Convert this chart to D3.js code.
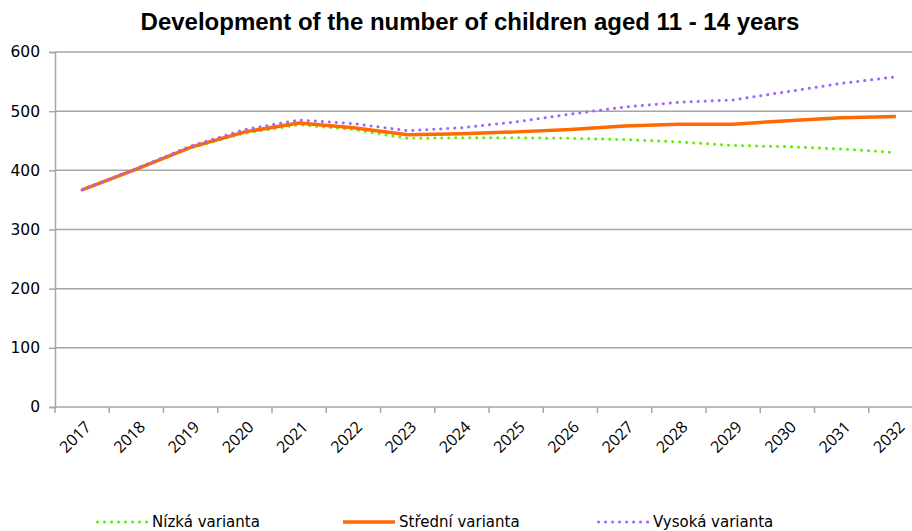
<!DOCTYPE html>
<html>
<head>
<meta charset="utf-8">
<script src="https://cdn.jsdelivr.net/npm/d3@7"></script>
<style>
  body { margin: 0; background: #fff; }
  svg { display: block; }
</style>
</head>
<body>
<div id="chart"></div>
<script>
// Years on the category axis
const years = ["2017","2018","2019","2020","2021","2022","2023","2024",
               "2025","2026","2027","2028","2029","2030","2031","2032"];

// Projection variants (number of children aged 11-14, thousands)
const nizka   = [367, 402, 438, 463, 477, 469, 454, 455, 455, 454, 452, 448, 442, 440, 436, 430];
const stredni = [367, 402, 439, 465, 480, 472, 460, 462, 465, 469, 475, 478, 478, 484, 489, 491];
const vysoka  = [367, 403, 441, 469, 485, 479, 467, 472, 482, 495, 507, 515, 519, 533, 547, 558];

const yTicks = [0, 100, 200, 300, 400, 500, 600];

const seriesNames = ["Nízká varianta", "Střední varianta", "Vysoká varianta"];

const W = 912, H = 531;
const margin = { left: 55, top: 52, right: -11, bottom: 124 };

const svg = d3.select("#chart").append("svg")
  .attr("width", W).attr("height", H);

const x = d3.scaleBand()
  .domain(years)
  .range([margin.left, W - margin.right]);

const y = d3.scaleLinear()
  .domain([0, 600])
  .range([H - margin.bottom, margin.top]);

const gridColor = "#a6a6a6";

// Horizontal gridlines
svg.append("g")
  .selectAll("line")
  .data(yTicks.filter(d => d > 0))
  .join("line")
  .attr("x1", margin.left).attr("x2", W)
  .attr("y1", d => y(d)).attr("y2", d => y(d))
  .attr("stroke", gridColor).attr("stroke-width", 1.5);

// Y axis
const yAxis = svg.append("g")
  .attr("transform", `translate(${margin.left},0)`)
  .call(d3.axisLeft(y).tickValues(yTicks).tickSize(6).tickPadding(9));
yAxis.select(".domain").attr("stroke", gridColor).attr("stroke-width", 1.5);
yAxis.selectAll(".tick line").attr("stroke", gridColor).attr("stroke-width", 1.5);
yAxis.selectAll(".tick text")
  .attr("font-family", "'DejaVu Sans', Verdana, sans-serif")
  .attr("font-size", 15.5)
  .attr("fill", "#000");

// X axis: ticks sit on category boundaries
const xAxisG = svg.append("g")
  .attr("transform", `translate(0,${y(0)})`);
xAxisG.append("line")
  .attr("x1", margin.left).attr("x2", W)
  .attr("stroke", gridColor).attr("stroke-width", 1.5);
xAxisG.selectAll("line.tk")
  .data(years)
  .join("line")
  .attr("class", "tk")
  .attr("x1", d => x(d)).attr("x2", d => x(d))
  .attr("y1", 0).attr("y2", 6)
  .attr("stroke", gridColor).attr("stroke-width", 1.5);
xAxisG.selectAll("text")
  .data(years)
  .join("text")
  .attr("transform", d => `translate(${x(d) + x.bandwidth() / 2 + 6},${17}) rotate(-45)`)
  .attr("text-anchor", "end")
  .attr("dy", "0.35em")
  .attr("font-family", "'Open Sans', 'Liberation Sans', sans-serif")
  .attr("font-size", 16)
  .attr("fill", "#000")
  .text(d => d);

// Lines
const line = vals => d3.line()
  .x((d, i) => x(years[i]) + x.bandwidth() / 2)
  .y(d => y(d))(vals);

const styles = [
  { data: nizka,   color: "#5ef000", width: 3,   dash: "0.1 6.9", cap: "round" },
  { data: stredni, color: "#ff6a00", width: 3.5, dash: null,      cap: "butt" },
  { data: vysoka,  color: "#a066ff", width: 3,   dash: "0.1 6.9", cap: "round" }
];

svg.append("g")
  .selectAll("path")
  .data(styles)
  .join("path")
  .attr("d", s => line(s.data))
  .attr("fill", "none")
  .attr("stroke", s => s.color)
  .attr("stroke-width", s => s.width)
  .attr("stroke-dasharray", s => s.dash)
  .attr("stroke-linecap", s => s.cap)
  .attr("stroke-linejoin", "round");

// Title
svg.append("text")
  .attr("x", 470).attr("y", 30)
  .attr("text-anchor", "middle")
  .attr("font-family", "'Liberation Sans Narrow', 'Arial Narrow', 'Liberation Sans', sans-serif")
  .attr("font-weight", "bold")
  .attr("font-size", 24)
  .attr("fill", "#000")
  .text("Development of the number of children aged 11 - 14 years");

// Legend
const legendX = [96, 343, 597];
const lg = svg.append("g");
styles.forEach((s, i) => {
  lg.append("line")
    .attr("x1", legendX[i] + (s.cap === "round" ? 1.5 : 0))
    .attr("x2", legendX[i] + 52)
    .attr("y1", 522).attr("y2", 522)
    .attr("stroke", s.color)
    .attr("stroke-width", s.width)
    .attr("stroke-dasharray", s.dash)
    .attr("stroke-linecap", s.cap);
  lg.append("text")
    .attr("x", legendX[i] + 56).attr("y", 522)
    .attr("dy", "0.35em")
    .attr("font-family", "'DejaVu Sans', Verdana, sans-serif")
    .attr("font-size", 15)
    .attr("fill", "#000")
    .text(seriesNames[i]);
});
</script>
</body>
</html>
